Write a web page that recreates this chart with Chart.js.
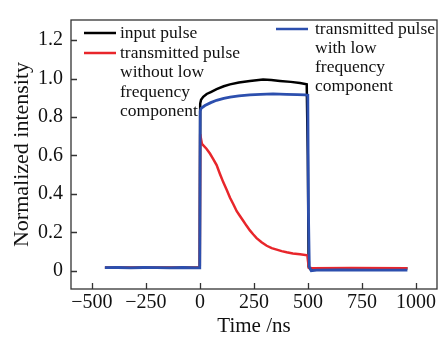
<!DOCTYPE html>
<html>
<head>
<meta charset="utf-8">
<script src="https://cdn.jsdelivr.net/npm/chart.js@4"></script>
<style>
  body { margin: 0; background: #fff; }
  #wrap { width: 448px; height: 339px; }
</style>
</head>
<body>
<div id="wrap"><canvas id="pulseChart" width="448" height="339"></canvas></div>
<script>
// tick values
const xTicks = [-500, -250, 0, 250, 500, 750, 1000];
const yTicks = [0, 0.2, 0.4, 0.6, 0.8, 1.0, 1.2];

// input pulse
const inputT = [-440, -300, -150, -1, 1, 5, 15, 31, 50, 77, 110, 139, 180, 231, 292, 330, 370, 420, 463, 494, 499, 503, 510, 530, 700, 960];
const inputV = [0.015, 0.016, 0.015, 0.015, 0.87, 0.89, 0.905, 0.92, 0.93, 0.945, 0.96, 0.97, 0.98, 0.987, 0.995, 0.993, 0.988, 0.983, 0.977, 0.97, 0.6, 0.02, 0.01, 0.012, 0.013, 0.013];

// transmitted pulse without low frequency component
const noLowT = [-440, -200, -1, 1, 9, 30, 46, 62, 77, 92, 108, 124, 139, 155, 170, 185, 200, 215, 231, 246, 262, 285, 309, 332, 355, 378, 401, 430, 463, 497, 500, 504, 520, 700, 960];
const noLowV = [0.015, 0.015, 0.015, 0.71, 0.66, 0.635, 0.61, 0.58, 0.55, 0.505, 0.46, 0.42, 0.38, 0.345, 0.31, 0.285, 0.26, 0.235, 0.21, 0.19, 0.17, 0.148, 0.13, 0.118, 0.11, 0.102, 0.096, 0.09, 0.086, 0.08, 0.05, 0.015, 0.013, 0.014, 0.013];

// transmitted pulse with low frequency component
const withLowT = [-440, -380, -320, -260, -200, -140, -80, -20, -1, 1, 5, 23, 50, 77, 110, 139, 180, 231, 280, 338, 400, 450, 486, 499, 502, 506, 515, 540, 650, 800, 960];
const withLowV = [0.016, 0.017, 0.015, 0.017, 0.016, 0.015, 0.017, 0.015, 0.015, 0.83, 0.845, 0.86, 0.875, 0.887, 0.897, 0.904, 0.91, 0.915, 0.918, 0.92, 0.918, 0.917, 0.915, 0.913, 0.3, 0.02, 0.0, 0.003, 0.004, 0.003, 0.003];

const seriesNames = [
    ["input pulse"],
    ["transmitted pulse", "without low", "frequency", "component"],
    ["transmitted pulse", "with low", "frequency", "component"]
];
const seriesColors = ["#000000", "#e8262b", "#2c4fae"];

function toPoints(t, v) {
    return t.map((x, i) => ({ x: x, y: v[i] }));
}

const serif = "'Liberation Serif', 'Times New Roman', serif";

// box, inward ticks and the legend
const framePlugin = {
    id: 'frame',
    afterDraw(chart) {
        const ctx = chart.ctx;
        const a = chart.chartArea;
        const xs = chart.scales.x, ys = chart.scales.y;
        ctx.save();
        ctx.strokeStyle = '#333';
        ctx.lineWidth = 1.3;
        ctx.strokeRect(a.left, a.top, a.right - a.left, a.bottom - a.top);
        ctx.beginPath();
        xTicks.forEach(v => {
            const px = Math.round(xs.getPixelForValue(v)) + 0.5;
            ctx.moveTo(px, a.bottom);
            ctx.lineTo(px, a.bottom - 6);
        });
        yTicks.forEach(v => {
            const py = Math.round(ys.getPixelForValue(v)) + 0.5;
            ctx.moveTo(a.left, py);
            ctx.lineTo(a.left + 6, py);
        });
        ctx.stroke();

        // legend
        ctx.font = "17.5px " + serif;
        ctx.textBaseline = 'middle';
        ctx.fillStyle = '#111';
        const spots = [[84, 33, 19.5], [84, 53, 19.5], [276, 29, 19.3]];
        seriesNames.forEach((lines, i) => {
            const [lx, ly, step] = spots[i];
            ctx.strokeStyle = seriesColors[i];
            ctx.lineWidth = 2.5;
            ctx.beginPath();
            ctx.moveTo(lx, ly);
            ctx.lineTo(lx + 32, ly);
            ctx.stroke();
            lines.forEach((s, k) => ctx.fillText(s, lx + 36 + (i === 2 ? 3 : 0), ly + k * step));
        });
        ctx.restore();
    }
};

new Chart(document.getElementById('pulseChart'), {
    type: 'line',
    data: {
        datasets: [
            { data: toPoints(inputT, inputV), borderColor: seriesColors[0], borderWidth: 2.5, order: 3 },
            { data: toPoints(noLowT, noLowV), borderColor: seriesColors[1], borderWidth: 2.5, order: 2 },
            { data: toPoints(withLowT, withLowV), borderColor: seriesColors[2], borderWidth: 2.8, order: 1 }
        ]
    },
    options: {
        responsive: false,
        animation: false,
        parsing: false,
        elements: { point: { radius: 0 }, line: { tension: 0 } },
        layout: { padding: { top: 8, right: 11, left: 0, bottom: 0 } },
        plugins: { legend: { display: false }, tooltip: { enabled: false } },
        scales: {
            x: {
                type: 'linear',
                min: -597,
                max: 1097,
                afterFit: s => { s.height = 50; },
                afterBuildTicks: s => { s.ticks = xTicks.map(v => ({ value: v })); },
                grid: { display: false, drawTicks: false },
                border: { display: false },
                ticks: {
                    color: '#111',
                    padding: 2,
                    font: { family: serif, size: 20 },
                    callback: v => String(v).replace('-', '\u2212')
                },
                title: {
                    display: true,
                    text: 'Time /ns',
                    color: '#111',
                    font: { family: serif, size: 21 },
                    padding: { top: 0, bottom: 0 }
                }
            },
            y: {
                min: -0.095,
                max: 1.305,
                afterFit: s => { s.width = 71; },
                afterBuildTicks: s => { s.ticks = yTicks.map(v => ({ value: v })); },
                grid: { display: false, drawTicks: false },
                border: { display: false },
                ticks: {
                    color: '#111',
                    padding: 8,
                    font: { family: serif, size: 20 },
                    callback: v => v === 0 ? '0' : v.toFixed(1)
                },
                title: {
                    display: true,
                    text: 'Normalized intensity',
                    color: '#111',
                    font: { family: serif, size: 22 },
                    padding: { top: 9, bottom: 0 }
                }
            }
        }
    },
    plugins: [framePlugin]
});
</script>
</body>
</html>
